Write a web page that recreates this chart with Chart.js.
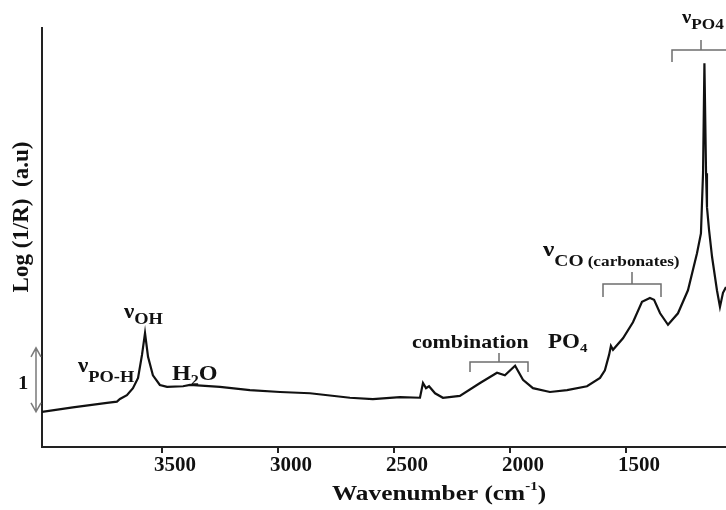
<!DOCTYPE html>
<html>
<head>
<meta charset="utf-8">
<script src="https://cdn.jsdelivr.net/npm/chart.js@4.4.1/dist/chart.umd.min.js"></script>
<style>
  html, body { margin: 0; padding: 0; background: #fff; }
</style>
</head>
<body>
<canvas id="myChart" width="726" height="510"></canvas>
<script>
// spectrum: wavenumber (cm-1) and Log(1/R) in a.u.
const wavenumber = [
  4017, 3884, 3737, 3694, 3681, 3651, 3625, 3603, 3586, 3573,
  3560, 3539, 3509, 3478, 3409, 3379, 3250, 3121, 2991, 2862,
  2690, 2591, 2474, 2388, 2375, 2362, 2349, 2323, 2289, 2216,
  2129, 2056, 2022, 1978, 1944, 1901, 1828, 1754, 1668, 1612,
  1591, 1573, 1565, 1556, 1513, 1470, 1431, 1397, 1379, 1353,
  1319, 1276, 1233, 1194, 1177, 1168, 1162, 1155, 1151, 1142,
  1129, 1108, 1095, 1082, 1069
];
const logR = [
  0.55, 0.62, 0.69, 0.71, 0.75, 0.81, 0.92, 1.08, 1.44, 1.78,
  1.41, 1.12, 0.97, 0.94, 0.95, 0.97, 0.94, 0.89, 0.86, 0.84,
  0.77, 0.75, 0.78, 0.77, 1.00, 0.92, 0.95, 0.84, 0.77, 0.80,
  1.00, 1.16, 1.12, 1.27, 1.05, 0.92, 0.86, 0.89, 0.95, 1.08,
  1.20, 1.44, 1.58, 1.52, 1.70, 1.95, 2.27, 2.33, 2.30, 2.09,
  1.91, 2.09, 2.45, 3.03, 3.34, 4.28, 6.00, 4.28, 3.75, 3.39,
  2.97, 2.45, 2.19, 2.41, 2.50
];
const xTicks = [3500, 3000, 2500, 2000, 1500];
const scaleBarBase = 0.55; // bottom of the "1" bar

const points = wavenumber.map((w, i) => ({x: w, y: logR[i]}));

const FONT = '"Liberation Serif", "Times New Roman", serif';
const INK = '#111';
const SX = 1.15; // the original figure is stretched a little sideways

// draw bold text, stretched; returns x where it ends
function txt(ctx, s, x, y, size) {
  ctx.save();
  ctx.font = 'bold ' + size + 'px ' + FONT;
  ctx.fillStyle = INK;
  ctx.textBaseline = 'alphabetic';
  ctx.translate(x, y);
  ctx.scale(SX, 1);
  ctx.fillText(s, 0, 0);
  const w = ctx.measureText(s).width * SX;
  ctx.restore();
  return x + w;
}
function textWidth(ctx, s, size) {
  ctx.save();
  ctx.font = 'bold ' + size + 'px ' + FONT;
  const w = ctx.measureText(s).width * SX;
  ctx.restore();
  return w;
}
function bracket(ctx, x1, x2, y, yEnd, yTop) {
  const xm = (x1 + x2) / 2;
  ctx.save();
  ctx.strokeStyle = '#6e6e6e';
  ctx.lineWidth = 1.5;
  ctx.beginPath();
  ctx.moveTo(x1, yEnd);
  ctx.lineTo(x1, y);
  ctx.lineTo(x2, y);
  ctx.lineTo(x2, yEnd);
  ctx.moveTo(xm, y);
  ctx.lineTo(xm, yTop);
  ctx.stroke();
  ctx.restore();
}

const annotations = {
  id: 'annotations',
  afterDraw(chart) {
    const ctx = chart.ctx;
    const yScale = chart.scales.y;

    // band labels
    let x = txt(ctx, 'ν', 78, 372, 20);
    txt(ctx, 'PO-H', x, 382, 16);

    x = txt(ctx, 'ν', 124, 318, 20);
    txt(ctx, 'OH', x, 324, 16);

    x = txt(ctx, 'H', 172, 380, 21);
    x = txt(ctx, '2', x, 385, 14);
    txt(ctx, 'O', x, 380, 21);

    txt(ctx, 'combination', 412, 348, 19);
    x = txt(ctx, 'PO', 548, 348, 20);
    txt(ctx, '4', x, 352, 13);
    bracket(ctx, 470, 528, 362, 372, 353);

    x = txt(ctx, 'ν', 543, 256, 22);
    x = txt(ctx, 'CO', x, 266, 17);
    txt(ctx, '(carbonates)', x + 4, 266, 15);
    bracket(ctx, 603, 661, 284, 297, 272);

    x = txt(ctx, 'ν', 682, 23, 18);
    txt(ctx, 'PO4', x, 29, 15);
    bracket(ctx, 672, 730, 50, 62, 40);

    // scale bar of one unit
    const yb = yScale.getPixelForValue(scaleBarBase);
    const yt = yScale.getPixelForValue(scaleBarBase + 1);
    const xb = 36;
    ctx.save();
    ctx.strokeStyle = '#7a7a7a';
    ctx.lineWidth = 1.5;
    ctx.beginPath();
    ctx.moveTo(xb, yt); ctx.lineTo(xb, yb);
    ctx.moveTo(xb - 5, yt + 9); ctx.lineTo(xb, yt); ctx.lineTo(xb + 5, yt + 9);
    ctx.moveTo(xb - 5, yb - 9); ctx.lineTo(xb, yb); ctx.lineTo(xb + 5, yb - 9);
    ctx.stroke();
    ctx.restore();
    txt(ctx, '1', 18, 389, 18);

    // axis titles
    ctx.save();
    ctx.font = 'bold 23px ' + FONT;
    ctx.fillStyle = INK;
    ctx.textAlign = 'center';
    ctx.textBaseline = 'middle';
    ctx.translate(22, 217);
    ctx.rotate(-Math.PI / 2);
    ctx.fillText('Log (1/R)  (a.u)', 0, 0);
    ctx.restore();

    const w1 = textWidth(ctx, 'Wavenumber (cm', 22);
    const w2 = textWidth(ctx, '-1', 13);
    const w3 = textWidth(ctx, ')', 22);
    x = 439 - (w1 + w2 + w3) / 2;
    x = txt(ctx, 'Wavenumber (cm', x, 500, 22);
    x = txt(ctx, '-1', x, 490, 13);
    txt(ctx, ')', x, 500, 22);
  }
};

const data = {
  datasets: [{
    data: points,
    borderColor: '#111',
    borderWidth: 2.2,
    pointRadius: 0,
    tension: 0,
    fill: false
  }]
};

const config = {
  type: 'line',
  data,
  options: {
    responsive: false,
    animation: false,
    layout: { padding: { top: 28, right: 0, left: 0, bottom: 0 } },
    plugins: {
      legend: { display: false },
      tooltip: { enabled: false }
    },
    scales: {
      x: {
        type: 'linear',
        reverse: true,
        min: 1069,
        max: 4017,
        afterBuildTicks: (scale) => {
          scale.ticks = xTicks.map(v => ({ value: v }));
        },
        afterFit: (scale) => { scale.height = 63; },
        ticks: {
          color: INK,
          font: { family: FONT, size: 21, weight: 'bold' },
          padding: 0,
          labelOffset: 13,
          maxRotation: 0,
          callback: (v) => String(v)
        },
        grid: {
          drawOnChartArea: false,
          drawTicks: true,
          tickLength: 6,
          color: '#222',
          lineWidth: 2
        },
        border: { display: true, color: '#222', width: 2 }
      },
      y: {
        min: 0,
        max: 6.55,
        afterFit: (scale) => { scale.width = 42; },
        ticks: { display: false },
        grid: { display: false },
        border: { display: true, color: '#222', width: 2 }
      }
    }
  },
  plugins: [annotations]
};

var myChart = new Chart(document.getElementById('myChart'), config);
</script>
</body>
</html>
